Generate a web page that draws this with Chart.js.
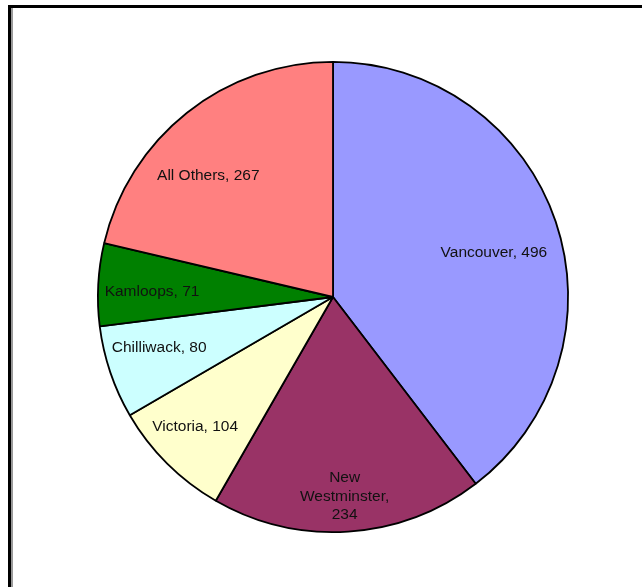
<!DOCTYPE html>
<html>
<head>
<meta charset="utf-8">
<script src="https://cdn.jsdelivr.net/npm/chart.js@4"></script>
<style>
  html, body { margin: 0; padding: 0; background: #fff; }
  #wrap { position: relative; width: 642px; height: 587px; overflow: hidden; }
  /* framed panel: thick black edge with a thin grey line inside */
  #frame {
    position: absolute; left: 8px; top: 5px; width: 700px; height: 700px;
    border-left: 3px solid #000; border-top: 3px solid #000;
    box-sizing: border-box;
  }
  #frame::before {
    content: ''; position: absolute; left: 0; top: 0; width: 2px; height: 100%;
    background: #9a9a9a;
  }
  #pieChart { position: absolute; left: 0; top: 0; }
</style>
</head>
<body>
<div id="wrap">
  <div id="frame"></div>
  <canvas id="pieChart" width="642" height="587"></canvas>
</div>
<script>
const cities = ['Vancouver', 'New Westminster', 'Victoria', 'Chilliwack', 'Kamloops', 'All Others'];
const counts = [496, 234, 104, 80, 71, 267];
const sliceColors = ['#9999FF', '#993366', '#FFFFCC', '#CCFFFF', '#008000', '#FF8080'];

// label placement: fraction of the radius, and a small turn (degrees) off the slice middle
const labelRadius = [0.71, 0.85, 0.805, 0.77, 0.77, 0.74];
const labelTurn = [3.2, 0.4, 1.9, 2.5, -1.3, -7.4];
// slices whose label gets word-wrapped to this width
const labelWrap = [0, 80, 0, 0, 0, 0];

function wrapText(ctx, text, maxWidth) {
  if (!maxWidth) return [text];
  const words = text.split(' ');
  const lines = [];
  let line = '';
  words.forEach(function (w) {
    const test = line ? line + ' ' + w : w;
    if (line && ctx.measureText(test).width > maxWidth) {
      lines.push(line);
      line = w;
    } else {
      line = test;
    }
  });
  if (line) lines.push(line);
  return lines;
}

const sliceLabels = {
  id: 'sliceLabels',
  afterDatasetsDraw(chart) {
    const ctx = chart.ctx;
    const meta = chart.getDatasetMeta(0);
    ctx.save();
    ctx.font = '15.5px "Liberation Sans", Arial, sans-serif';
    ctx.fillStyle = '#111';
    ctx.textAlign = 'center';
    ctx.textBaseline = 'middle';
    meta.data.forEach(function (arc, i) {
      const p = arc.getProps(['x', 'y', 'startAngle', 'endAngle', 'outerRadius'], true);
      const mid = (p.startAngle + p.endAngle) / 2 + labelTurn[i] * Math.PI / 180;
      const r = p.outerRadius * labelRadius[i];
      const cx = p.x + Math.cos(mid) * r;
      const cy = p.y + Math.sin(mid) * r;
      const lines = wrapText(ctx, cities[i] + ', ' + counts[i], labelWrap[i]);
      const lh = 18.5;
      const top = cy - (lines.length - 1) * lh / 2;
      lines.forEach(function (ln, k) {
        ctx.fillText(ln, cx, top + k * lh);
      });
    });
    ctx.restore();
  }
};

new Chart(document.getElementById('pieChart'), {
  type: 'pie',
  data: {
    labels: cities,
    datasets: [{
      data: counts,
      backgroundColor: sliceColors,
      borderColor: '#000',
      borderWidth: 1.8
    }]
  },
  options: {
    responsive: false,
    animation: false,
    layout: { padding: { left: 97, right: 73, top: 61, bottom: 54 } },
    plugins: {
      legend: { display: false },
      tooltip: { enabled: false }
    }
  },
  plugins: [sliceLabels]
});
</script>
</body>
</html>
